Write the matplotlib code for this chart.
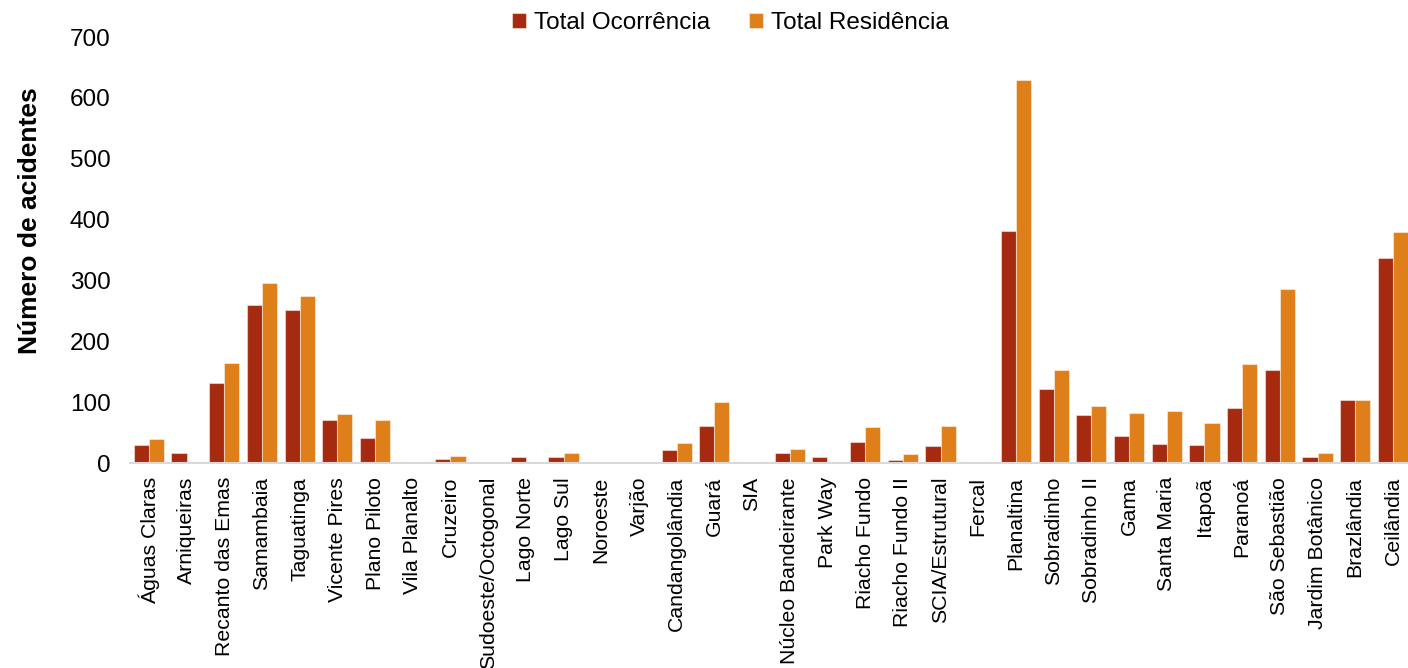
import numpy as np
import matplotlib
matplotlib.use('Agg')
import matplotlib.pyplot as plt

plt.rcParams['font.family'] = ['Liberation Sans', 'DejaVu Sans']

regioes = ["Águas Claras", "Arniqueiras", "Recanto das Emas", "Samambaia", "Taguatinga",
           "Vicente Pires", "Plano Piloto", "Vila Planalto", "Cruzeiro", "Sudoeste/Octogonal",
           "Lago Norte", "Lago Sul", "Noroeste", "Varjão", "Candangolândia", "Guará", "SIA",
           "Núcleo Bandeirante", "Park Way", "Riacho Fundo", "Riacho Fundo II",
           "SCIA/Estrutural", "Fercal", "Planaltina", "Sobradinho", "Sobradinho II", "Gama",
           "Santa Maria", "Itapoã", "Paranoá", "São Sebastião", "Jardim Botânico",
           "Brazlândia", "Ceilândia"]

total_ocorrencia = [29, 17, 132, 260, 252, 71, 41, 0, 7, 1, 10, 10, 0, 2, 21, 61, 0,
                    17, 10, 34, 5, 28, 1, 381, 121, 79, 45, 32, 30, 91, 152, 10, 104, 337]
total_residencia = [40, 0, 164, 295, 275, 81, 70, 0, 11, 2, 0, 17, 0, 0, 33, 100, 0,
                    23, 0, 59, 14, 61, 2, 630, 153, 93, 82, 86, 65, 163, 286, 17, 103, 379]

cor_ocorrencia = '#A52A0F'
cor_residencia = '#DF7F19'

fig = plt.figure(figsize=(14.08, 6.68), dpi=100)
ax = fig.add_axes([130 / 1408, 1 - 463 / 668, 1 - 130 / 1408, (463 - 37) / 668])

x = np.arange(len(regioes))
w = 0.4
ax.bar(x - w / 2, total_ocorrencia, w, color=cor_ocorrencia, label='Total Ocorrência',
       edgecolor=(1, 1, 1, 0.45), linewidth=0.8)
ax.bar(x + w / 2, total_residencia, w, color=cor_residencia, label='Total Residência',
       edgecolor=(1, 1, 1, 0.45), linewidth=0.8)

ax.set_xlim(-0.5, len(regioes) - 0.6)
ax.set_ylim(0, 700)
ax.set_yticks(np.arange(0, 701, 100))
ax.set_xticks(x)
ax.set_xticklabels(regioes, rotation=90, fontsize=15.3)
ax.tick_params(axis='y', length=0, pad=14, labelsize=17.5)
ax.tick_params(axis='x', length=0, pad=10)

for s in ['top', 'right', 'left']:
    ax.spines[s].set_visible(False)
ax.spines['bottom'].set_color('#D9D9D9')
ax.spines['bottom'].set_linewidth(1.5)

fig.text(30 / 1408, 1 - 221 / 668, 'Número de acidentes', rotation=90,
         fontsize=19, fontweight='bold', ha='center', va='center')

fig.legend(loc='center', bbox_to_anchor=(730 / 1408, 1 - 23 / 668), ncol=2,
           frameon=False, fontsize=17.5, handlelength=0.6, handleheight=0.6,
           handletextpad=0.3, columnspacing=1.6)

fig.savefig('out.png', dpi=100)
